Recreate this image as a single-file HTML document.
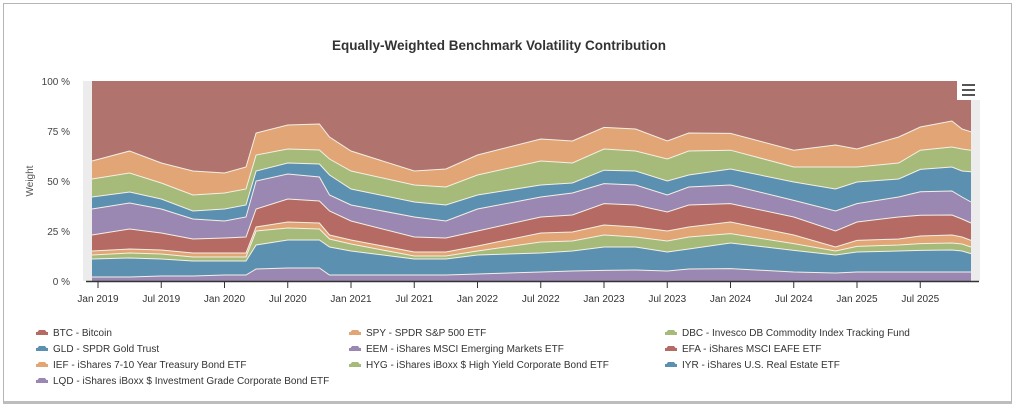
<!DOCTYPE html>
<html><head><meta charset="utf-8">
<style>
body{margin:0;background:#fff;width:1018px;height:417px;overflow:hidden;font-family:"Liberation Sans",sans-serif;}
#card{position:absolute;left:3px;top:3px;width:1009px;height:401px;border:1px solid #b5b5b5;border-bottom:3px solid #bdbdbd;box-sizing:border-box;}
svg{position:absolute;left:0;top:0;}
</style></head>
<body>
<div id="card"></div>
<svg id="chart" width="1018" height="417"></svg>
<script>
const dates=[2018.92,2019.25,2019.5,2019.75,2020.0,2020.17,2020.25,2020.5,2020.75,2020.83,2021.0,2021.5,2021.75,2022.0,2022.5,2022.75,2023.0,2023.25,2023.5,2023.67,2024.0,2024.5,2024.83,2025.0,2025.33,2025.5,2025.75,2025.83,2025.95];
const lqd=[2,2,2.5,2.5,3,3,6,6.5,6.5,3,3,3,3,3.5,4.5,5,5.3,5.5,5,6,6.2,4.5,4,4.5,4.5,4.5,4.5,4.5,4.5];
const iyr=[9,9.5,8.5,7.5,7,7,12,14,14,14,12,8,8,9.5,9.5,10,11.7,11.5,9.5,10,12.8,10.8,9,10,10.5,10.8,11,10.5,9.2];
const hyg=[2,2.5,2.5,2,2,2,7,6,5.5,4,3.5,1.5,1.5,2,5.5,5,6,5,5.5,6,4.7,3.4,2,2.8,3,3.4,3.5,3.5,3.3];
const ief=[2,2,2,2,2,2,2,3,3,2,2,2,2,2.5,4.5,4.5,5,5,5,5,5.8,4.3,2,3,3,3.8,4,3.5,3.3];
const efa=[8,10,8.5,7,7.5,8,9,11.5,11,12,9.5,7.5,7,7.5,8,8.5,10.7,11,9.5,11,9.2,9,8,9.2,11,10.4,10,9,8.7];
const eem=[13,13,12,10,8.5,10,14,12.5,12,8,8,10,8.5,11,10,11,10,10,8.5,9,9.3,8.3,10,9.2,10,11.7,12,11,10.5];
const gld=[6,5.5,5,4,6,6,5,5.5,6.5,10,8,7.5,8,7,6,5,6.7,7,7,6,8,9.2,11,10.8,9,11.2,12,13,15.1];
const dbc=[9,9.5,8,8,8,8,8,7,7,8,9,8.5,9,10,12,10,10.6,10,11,12,9.4,7.5,11,7.5,8,9.6,10,11,10.8];
const spy=[9,11,10,12,10,11,11,12,13,11,10,7,9,10,11,11,10.8,11,9,9,8.4,8.4,11,9,13,11.6,13,10,9.2];
const btc=[40,35,41,45,46,43,26,22,21.5,28,35,45,44,37,29,30,23.2,24,30,26,26.2,34.6,32,34,28,23,20,24,25.4];
const seriesNames=["LQD","IYR","HYG","IEF","EFA","EEM","GLD","DBC","SPY","BTC"];
const seriesData=[lqd,iyr,hyg,ief,efa,eem,gld,dbc,spy,btc];
const colors=["#9a88b2","#5b90b0","#a6ba7a","#e2a575","#b56a64","#9a88b2","#5b90b0","#a6ba7a","#e2a575","#b1736e"];
const yTicks=[0,25,50,75,100];
const xTickLabels=["Jan 2019","Jul 2019","Jan 2020","Jul 2020","Jan 2021","Jul 2021","Jan 2022","Jul 2022","Jan 2023","Jul 2023","Jan 2024","Jul 2024","Jan 2025","Jul 2025"];
const xTickVals=[2019,2019.5,2020,2020.5,2021,2021.5,2022,2022.5,2023,2023.5,2024,2024.5,2025,2025.5];
const legendLabels=["BTC - Bitcoin","SPY - SPDR S&P 500 ETF","DBC - Invesco DB Commodity Index Tracking Fund","GLD - SPDR Gold Trust","EEM - iShares MSCI Emerging Markets ETF","EFA - iShares MSCI EAFE ETF","IEF - iShares 7-10 Year Treasury Bond ETF","HYG - iShares iBoxx $ High Yield Corporate Bond ETF","IYR - iShares U.S. Real Estate ETF","LQD - iShares iBoxx $ Investment Grade Corporate Bond ETF"];
const legendColors=["#b56a64","#e2a575","#a6ba7a","#5b90b0","#9a88b2","#b56a64","#e2a575","#a6ba7a","#5b90b0","#9a88b2"];

const NS="http://www.w3.org/2000/svg";
const svg=document.getElementById('chart');
const L=92,R=971,T=81,B=281;
const xs=v=>98+(v-2019)*126.5;
const ys=v=>B-(v/100)*(B-T);
function mk(tag,attrs,parent){const e=document.createElementNS(NS,tag);for(const k in attrs)e.setAttribute(k,attrs[k]);(parent||svg).appendChild(e);return e;}

let t=mk('text',{x:499,y:50,'text-anchor':'middle','font-size':13.5,'font-weight':'bold',fill:'#333'});
t.textContent="Equally-Weighted Benchmark Volatility Contribution";



let strip=mk('rect',{x:83,y:T,width:9,height:B-T,fill:'#ececec'});


let strip2=mk('rect',{x:971,y:100,width:9,height:B-100,fill:'#ececec'});



let cum=dates.map(()=>0);
const g=mk('g',{});


const tops=[];
seriesData.forEach((arr,si)=>{
  const lower=cum.slice();
  const upper=cum.map((c,i)=>c+arr[i]);
  cum=upper;
  let d='';
  upper.forEach((v,i)=>{const X=Math.max(L,Math.min(R,xs(dates[i])));d+=(i?'L':'M')+X.toFixed(1)+','+ys(v).toFixed(1);});
  for(let i=lower.length-1;i>=0;i--){const X=Math.max(L,Math.min(R,xs(dates[i])));d+='L'+X.toFixed(1)+','+ys(lower[i]).toFixed(1);}
  d+='Z';
  const p=mk('path',{d:d,fill:colors[si],stroke:'none'},g);
  
  
  tops.push(upper);
});
tops.slice(0,9).forEach((up,si)=>{
  let d='';
  up.forEach((v,i)=>{const X=Math.max(L,Math.min(R,xs(dates[i])));d+=(i?'L':'M')+X.toFixed(1)+','+ys(v).toFixed(1);});
  const l=mk('path',{d:d,fill:'none',stroke:'#f4f0e6','stroke-width':1},g);
  
  
});

yTicks.forEach(v=>{
  const tl=mk('text',{x:70,y:ys(v)+4,'text-anchor':'end','font-size':10,fill:'#444'});
  tl.textContent=v+' %';
  
  
});
let yt=mk('text',{x:33,y:181,'text-anchor':'middle','font-size':10,fill:'#555',transform:'rotate(-90 33 181)'});
yt.textContent='Weight';



let ax=mk('line',{x1:L-6,y1:B+0.5,x2:R+8,y2:B+0.5,stroke:'#333','stroke-width':1.5});


xTickVals.forEach((v,i)=>{
  const tk=mk('line',{x1:xs(v),y1:B,x2:xs(v),y2:B+7,stroke:'#333'});
  
  
  const tl=mk('text',{x:xs(v),y:B+21,'text-anchor':'middle','font-size':10,fill:'#333'});
  tl.textContent=xTickLabels[i];
  
  
});

const mg=mk('g',{});


mk('rect',{x:957,y:80,width:22,height:20,fill:'#fff'},mg);
[84,89,94].forEach(y=>mk('rect',{x:962,y:y,width:13,height:2,fill:'#555'},mg));

const colX=[36,349,665], rowY=[330,346,362,378];
legendLabels.forEach((lab,i)=>{
  const cx=colX[i%3], cy=rowY[Math.floor(i/3)];
  const lg=mk('g',{});
  
  
  mk('path',{d:`M${cx},${cy+4} L${cx+3},${cy} L${cx+9},${cy} L${cx+12},${cy+4} Z`,fill:legendColors[i]},lg);
  mk('rect',{x:cx,y:cy+2,width:12,height:3,fill:legendColors[i]},lg);
  const tx=mk('text',{x:cx+17,y:cy+6,'font-size':10,fill:'#333'},lg);
  tx.textContent=lab;
});
</script>
</body></html>
